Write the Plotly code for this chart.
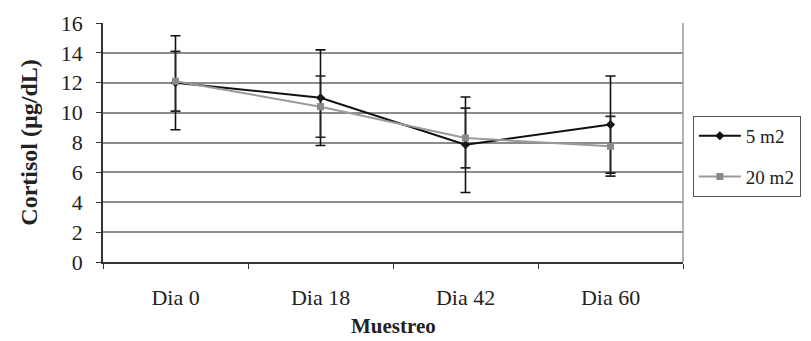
import plotly.graph_objects as go

categories = ["Dia 0", "Dia 18", "Dia 42", "Dia 60"]
series_names = ["5 m2", "20 m2"]
values_5m2 = [12.0, 11.0, 7.85, 9.2]
err_5m2 = [3.15, 3.2, 3.2, 3.25]
values_20m2 = [12.1, 10.4, 8.3, 7.75]
err_20m2 = [2.0, 2.05, 2.0, 2.0]
y_ticks = [0, 2, 4, 6, 8, 10, 12, 14, 16]

FONT = "Liberation Serif, Times New Roman, serif"

fig = go.Figure()
fig.add_trace(go.Scatter(
    x=categories, y=values_5m2, name=series_names[0], mode="lines+markers",
    line=dict(color="#111111", width=2),
    marker=dict(symbol="diamond", size=7, color="#111111"),
    error_y=dict(type="data", array=err_5m2, visible=True, color="#111111",
                 thickness=1.6, width=5),
    legendgroup="a",
))
fig.add_trace(go.Scatter(
    x=categories, y=values_20m2, name=series_names[1], mode="lines+markers",
    line=dict(color="#9a9a9a", width=2),
    marker=dict(symbol="square", size=7, color="#8a8a8a"),
    error_y=dict(type="data", array=err_20m2, visible=True, color="#222222",
                 thickness=1.6, width=5),
    legendgroup="b",
))

fig.update_layout(
    width=811, height=341,
    margin=dict(l=95, r=136, t=15, b=87),
    paper_bgcolor="white", plot_bgcolor="white",
    font=dict(family=FONT, color="#222222", size=22),
    showlegend=True,
    legend=dict(
        x=1.017, xanchor="left", y=0.611, yanchor="top",
        bordercolor="#555555", borderwidth=1,
        font=dict(family=FONT, size=19, color="#222222"),
        traceorder="grouped", tracegroupgap=13,
        itemwidth=42,
    ),
    xaxis=dict(
        type="category", categoryorder="array", categoryarray=categories,
        tickson="boundaries", ticks="outside", ticklen=5, tickcolor="#333333",
        showline=True, linecolor="#333333", linewidth=1.5,
        showgrid=False, tickfont=dict(size=22), ticklabelstandoff=15,
        range=[-0.5, 3.5], automargin=False,
    ),
    yaxis=dict(
        range=[0, 16], tickvals=y_ticks, ticks="outside", ticklen=5,
        tickcolor="#333333", showline=True, linecolor="#333333", linewidth=1.5,
        showgrid=True, gridcolor="#8c8c8c", gridwidth=1.5,
        zeroline=False, tickfont=dict(size=22), ticklabelstandoff=9,
        automargin=False,
    ),
    annotations=[
        dict(text="<b>Cortisol (µg/dL)</b>", xref="paper", yref="paper",
             x=-0.129, y=0.5, xanchor="center", yanchor="middle",
             textangle=-90, showarrow=False, font=dict(size=24)),
        dict(text="<b>Muestreo</b>", xref="paper", yref="paper",
             x=0.5, y=-0.268, xanchor="center", yanchor="middle",
             showarrow=False, font=dict(size=21)),
    ],
    shapes=[dict(type="line", xref="paper", yref="paper", x0=1, x1=1, y0=0, y1=1,
                 line=dict(color="#9a9a9a", width=1.5))],
)

fig.write_html("out.html")
